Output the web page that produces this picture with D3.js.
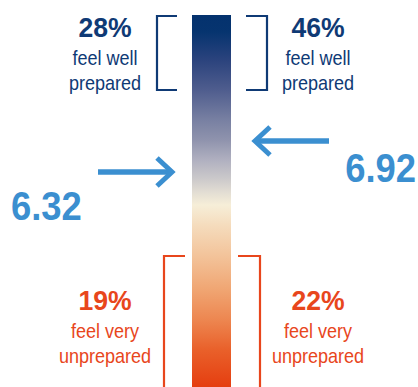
<!DOCTYPE html>
<html><head><meta charset="utf-8">
<script src="https://cdn.jsdelivr.net/npm/d3@7"></script>
<style>
html,body{margin:0;padding:0;background:#fff;}
svg{display:block;}
text{font-family:"Liberation Sans Narrow","Arial Narrow","Liberation Sans",Arial,sans-serif;}
</style></head>
<body>
<svg id="c" width="418" height="387"></svg>
<script>
// Data
const groups = ["left", "right"];
const wellPrepared = [28, 46];
const veryUnprepared = [19, 22];
const means = [6.32, 6.92];
const wellLabel = ["feel well", "prepared"];
const unpreparedLabel = ["feel very", "unprepared"];

const navy = "#0f3a75", blue = "#3b8fd0", orange = "#e8461c";
const W = 418, H = 387;
const svg = d3.select("#c");

// Scales
const centerX = d3.scaleOrdinal().domain(groups).range([105, 318]);
const meanY = d3.scaleLinear().domain([6.32, 6.92]).range([172, 141]);

// Gradient bar
const defs = svg.append("defs");
const grad = defs.append("linearGradient").attr("id", "g")
  .attr("gradientUnits", "userSpaceOnUse").attr("x1", 0).attr("x2", 0).attr("y1", 15).attr("y2", 387);
const stopsY = [
  [15, "#04326e"], [32, "#06346f"], [60, "#2b437d"], [90, "#4f5d8e"], [120, "#7880a2"],
  [140, "#8f93ad"], [160, "#b0b0c0"], [178, "#cac8ca"], [192, "#e2ddd3"], [205, "#f6eed8"],
  [225, "#f5dcbd"], [255, "#f3c49b"], [290, "#f0a572"], [320, "#ed8650"], [350, "#e9602a"], [387, "#e53e10"]
];
grad.selectAll("stop").data(stopsY).join("stop")
  .attr("offset", d => (d[0] - 15) / (387 - 15)).attr("stop-color", d => d[1]);
svg.append("rect").attr("x", 192).attr("y", 15).attr("width", 39).attr("height", 380).attr("fill", "url(#g)");

// Brackets
const bw = 2.2;
function bracket(xv, xh, y1, y2, color, open) {
  const p = d3.path();
  p.moveTo(xh, y1); p.lineTo(xv, y1); p.lineTo(xv, y2);
  if (!open) p.lineTo(xh, y2);
  svg.append("path").attr("d", p.toString()).attr("fill", "none")
    .attr("stroke", color).attr("stroke-width", bw);
}
bracket(157, 177, 16, 90, navy, false);
bracket(267, 246, 16, 90, navy, false);
bracket(164, 185, 256, 400, orange, true);
bracket(260, 238, 256, 400, orange, true);

// condensed text helper
function ctext(x, y, str, size, weight, color, anchor, sx) {
  svg.append("g").attr("transform", `translate(${x},${y}) scale(${sx},1)`)
    .append("text").attr("text-anchor", anchor).attr("fill", color)
    .attr("font-weight", weight).attr("font-size", size).text(str);
}

// Percent labels
function block(g, pct, lines, color, y0) {
  const cx = centerX(g);
  ctext(cx, y0, pct + "%", 28, "bold", color, "middle", 0.95);
  lines.forEach((l, i) => ctext(cx, y0 + 28 + i * 25, l, 20.5, "normal", color, "middle", 0.88));
}
groups.forEach((g, i) => {
  block(g, wellPrepared[i], wellLabel, navy, 37);
  block(g, veryUnprepared[i], unpreparedLabel, orange, 310);
});

// Mean arrows
function arrow(tipX, tailX, y) {
  const dir = Math.sign(tailX - tipX);
  const p = d3.path();
  p.moveTo(tailX, y); p.lineTo(tipX + dir * 2, y);
  svg.append("path").attr("d", p.toString()).attr("stroke", blue).attr("stroke-width", 5.5).attr("fill", "none");
  const h = d3.path();
  h.moveTo(tipX + dir * 15, y - 14); h.lineTo(tipX, y); h.lineTo(tipX + dir * 15, y + 14);
  svg.append("path").attr("d", h.toString()).attr("stroke", blue).attr("stroke-width", 5)
    .attr("fill", "none").attr("stroke-linejoin", "miter");
}
arrow(172, 98, meanY(means[0]));
arrow(255, 329, meanY(means[1]));

ctext(11, meanY(means[0]) + 48, means[0].toFixed(2), 40, "bold", blue, "start", 0.91);
ctext(416, meanY(means[1]) + 41, means[1].toFixed(2), 40, "bold", blue, "end", 0.91);
</script>
</body></html>
